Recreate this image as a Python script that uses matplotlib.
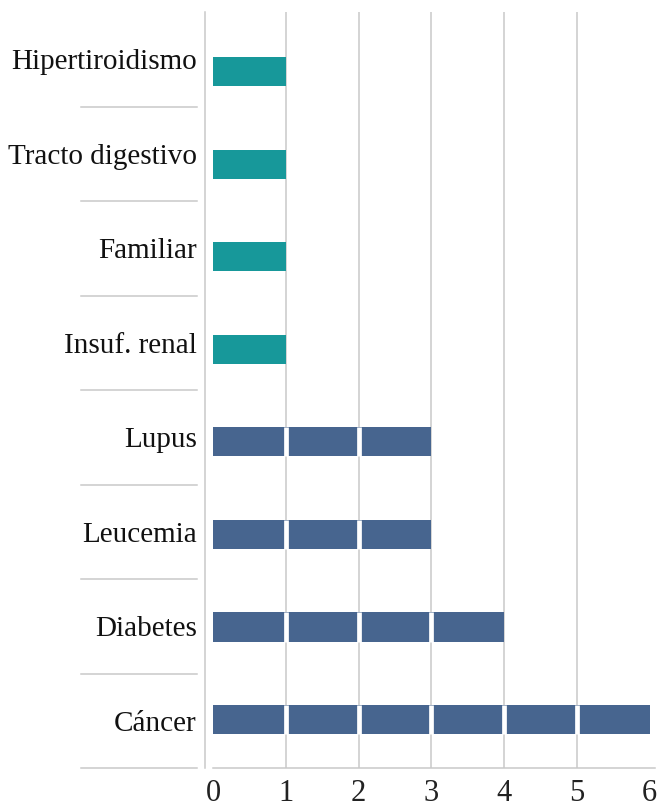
import matplotlib
matplotlib.use("Agg")
import matplotlib.pyplot as plt
import numpy as np

# Casos por patología (de abajo hacia arriba)
categorias = ["Cáncer", "Diabetes", "Leucemia", "Lupus",
              "Insuf. renal", "Familiar", "Tracto digestivo", "Hipertiroidismo"]
casos = [6, 4, 3, 3, 1, 1, 1, 1]
grupo = ["a", "a", "a", "a", "b", "b", "b", "b"]
colores_grupo = {"a": "#47658f", "b": "#17989a"}
ticks_x = [0, 1, 2, 3, 4, 5, 6]

plt.rcParams["font.family"] = ["Liberation Serif", "DejaVu Serif"]

fig = plt.figure(figsize=(6.63, 8.07), dpi=100)
rect = [205 / 663, 39 / 807, 450 / 663, 756 / 807]
ax = fig.add_axes(rect)                      # barras y cuadrícula
ax_lab = fig.add_axes(rect, sharex=ax)       # etiquetas y separadores
ax_lab.patch.set_visible(False)

pos = np.arange(len(categorias))
alto = 0.315
grid_color = "#c9c9c9"

# Líneas de cuadrícula verticales detrás de las barras
for t in ticks_x[1:-1]:
    ax.axvline(t, color=grid_color, lw=1.1, zorder=0)

colores = [colores_grupo[g] for g in grupo]
ax.barh(pos, casos, height=alto, color=colores, zorder=2)

# Separaciones blancas dentro de cada barra en cada unidad
for y, v in zip(pos, casos):
    for k in range(1, v):
        ax.plot([k, k], [y - alto / 2, y + alto / 2],
                color="white", lw=3.4, solid_capstyle="butt", zorder=3)

x0 = -8 / 72.8
x1 = (655 - 213) / 72.8
ax.set_xlim(x0, x1)
ax.set_ylim(-0.524, 7.643)
ax.set_yticks([])
ax.set_xticks(ticks_x)
ax.set_xticklabels([str(t) for t in ticks_x])
ax.tick_params(axis="x", length=0, pad=8, labelsize=22, labelcolor="#222222")

for s in ["top", "right"]:
    ax.spines[s].set_visible(False)
ax.spines["left"].set_color(grid_color)
ax.spines["left"].set_linewidth(1.1)
ax.spines["bottom"].set_color(grid_color)
ax.spines["bottom"].set_linewidth(1.1)
ax.spines["bottom"].set_bounds(0, x1)

# Eje de etiquetas de categoría
ax_lab.set_ylim(-0.5, len(categorias) - 0.5)
ax_lab.set_yticks(pos)
ax_lab.set_yticklabels(categorias)
ax_lab.tick_params(axis="y", length=0, pad=6, labelsize=21, labelcolor="#111111")
ax_lab.tick_params(axis="x", bottom=False, labelbottom=False)
for s in ax_lab.spines.values():
    s.set_visible(False)

# Separadores de categoría en la zona de etiquetas
trans = ax_lab.get_yaxis_transform()
for b in np.arange(-0.5, len(categorias) - 1, 1.0):
    ax_lab.plot([(81 - 205) / 450, (197 - 205) / 450], [b, b], transform=trans,
                color=grid_color, lw=1.1, clip_on=False)

fig.savefig("out.png", dpi=100, facecolor="white")
